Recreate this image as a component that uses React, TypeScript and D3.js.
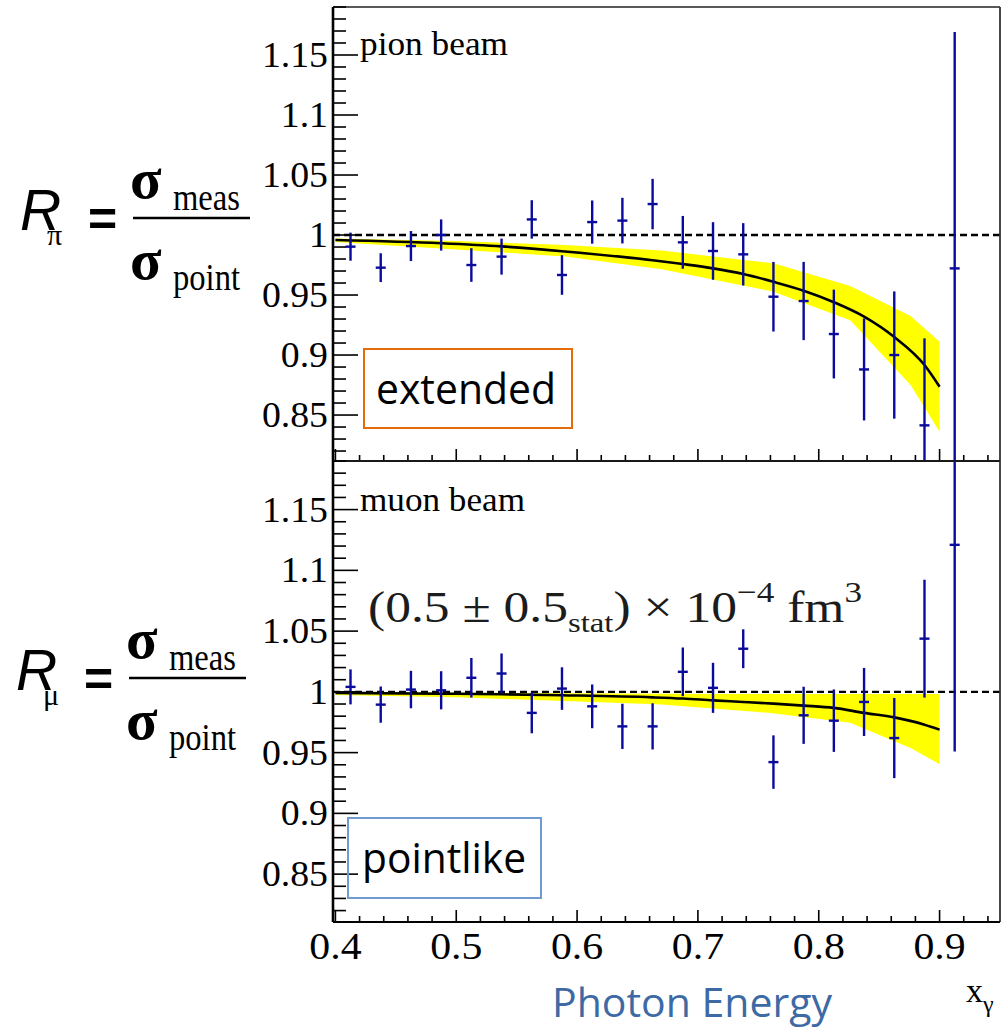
import React from "react";
import * as d3 from "d3";

// ---------- data ----------
const xBins = [0.4125, 0.4375, 0.4625, 0.4875, 0.5125, 0.5375, 0.5625, 0.5875, 0.6125, 0.6375, 0.6625,
  0.6875, 0.7125, 0.7375, 0.7625, 0.7875, 0.8125, 0.8375, 0.8625, 0.8875, 0.9125];

const pionValues = [0.9903, 0.9728, 0.9908, 1.0, 0.975, 0.982, 1.013, 0.9667, 1.0108, 1.012, 1.0258,
  0.9939, 0.9867, 0.9839, 0.9486, 0.945, 0.9175, 0.888, 0.9, 0.8414, 0.9722];
const pionErrors = [0.0117, 0.012, 0.0125, 0.013, 0.014, 0.015, 0.016, 0.0165, 0.018, 0.019, 0.021,
  0.022, 0.024, 0.026, 0.029, 0.0326, 0.037, 0.0425, 0.053, 0.0725, 0.197];

const muonValues = [1.0041, 0.9895, 1.0019, 1.0013, 1.0116, 1.0151, 0.9827, 1.0027, 0.9881, 0.9716, 0.9716,
  1.0165, 1.0033, 1.0355, 0.9422, 0.9807, 0.9763, 0.9917, 0.962, 1.0438, 1.121];
const muonErrors = [0.0144, 0.0149, 0.0154, 0.0157, 0.0163, 0.0165, 0.0168, 0.0175, 0.018, 0.0186, 0.019,
  0.02, 0.0206, 0.016, 0.022, 0.0235, 0.0257, 0.028, 0.033, 0.0485, 0.17];

const fitX = [0.4, 0.4875, 0.5375, 0.5875, 0.6625, 0.6875, 0.7125, 0.7375, 0.7625, 0.7875, 0.8125, 0.8375, 0.8625, 0.8875, 0.9];
const pionFit = [0.9958, 0.9931, 0.9905, 0.9865, 0.979, 0.9758, 0.9722, 0.9675, 0.961, 0.9536, 0.944, 0.932, 0.915, 0.8917, 0.8736];
const muonFit = [0.9992, 0.9985, 0.998, 0.9972, 0.9955, 0.9945, 0.993, 0.9917, 0.9903, 0.9887, 0.9868, 0.9827, 0.979, 0.973, 0.9689];

const pionBandX = [0.4, 0.5, 0.59, 0.67, 0.7625, 0.826, 0.876, 0.9];
const pionBandHi = [0.9972, 0.995, 0.9917, 0.987, 0.9764, 0.9575, 0.9325, 0.911];
const pionBandLo = [0.9942, 0.988, 0.982, 0.9715, 0.9528, 0.929, 0.875, 0.836];

const muonBandX = [0.4, 0.5, 0.56, 0.67, 0.76, 0.826, 0.876, 0.9];
const muonBandHi = [1.0, 0.9995, 0.999, 0.9985, 0.9983, 0.9983, 0.9983, 0.9983];
const muonBandLo = [0.9975, 0.9955, 0.9935, 0.9895, 0.9827, 0.9745, 0.9538, 0.9405];

const xTickLabels = ["0.4", "0.5", "0.6", "0.7", "0.8", "0.9"];
const yTickLabels = ["0.85", "0.9", "0.95", "1", "1.05", "1.1", "1.15"];

// ---------- layout ----------
const X0 = 333, X1 = 1000;
const xScale = d3.scaleLinear().domain([0.398, 0.95]).range([X0, X1]);
const panels = [
  { key: "pion", top: 7, bottom: 461, domain: [0.8117, 1.19], values: pionValues, errors: pionErrors, fit: pionFit,
    bandX: pionBandX, hi: pionBandHi, lo: pionBandLo, label: "pion beam", labelLen: 148, labelY: 55 },
  { key: "muon", top: 461, bottom: 922, domain: [0.8106, 1.19], values: muonValues, errors: muonErrors, fit: muonFit,
    bandX: muonBandX, hi: muonBandHi, lo: muonBandLo, label: "muon beam", labelLen: 165, labelY: 511 },
];

const SERIF = "'Liberation Serif', 'Times New Roman', serif";
const SANS = "'Open Sans', 'Liberation Sans', sans-serif";
const BLUE = "#0a0a9c";

function Panel({ p }: { p: any }) {
  const y = d3.scaleLinear().domain(p.domain).range([p.bottom, p.top]);
  const clipId = "clip-" + p.key;
  const area = d3.area<number>()
    .x((_, i) => xScale(p.bandX[i]))
    .y0((_, i) => y(p.lo[i]))
    .y1((_, i) => y(p.hi[i]));
  const line = d3.line<number>()
    .x((_, i) => xScale(fitX[i]))
    .y((d) => y(d))
    .curve(d3.curveMonotoneX);
  const yMinor = d3.range(Math.ceil(p.domain[0] * 100), Math.floor(p.domain[1] * 100) + 1).map((v) => v / 100);
  const xMinor = d3.range(20, 48).map((v) => v / 50);
  return (
    <g>
      <defs>
        <clipPath id={clipId}>
          <rect x={X0} y={p.top} width={X1 - X0} height={p.bottom - p.top} />
        </clipPath>
      </defs>
      <g clipPath={`url(#${clipId})`}>
        <path d={area(p.bandX) || ""} fill="#ffff00" />
        <line x1={X0} x2={X1} y1={y(1)} y2={y(1)} stroke="#000" strokeWidth={2.4} strokeDasharray="7,4" />
        <path d={line(p.fit) || ""} fill="none" stroke="#000" strokeWidth={2.6} />
        {xBins.map((xv, i) => {
          const cx = xScale(xv);
          return (
            <g key={i} stroke={BLUE} strokeWidth={2.4}>
              <line x1={cx} x2={cx} y1={y(p.values[i] + p.errors[i])} y2={y(p.values[i] - p.errors[i])} />
              <line x1={cx - 5} x2={cx + 5} y1={y(p.values[i])} y2={y(p.values[i])} />
            </g>
          );
        })}
      </g>
      {/* frame */}
      <line x1={X0} x2={X1} y1={p.top} y2={p.top} stroke="#222" strokeWidth={1.6} />
      <line x1={X1} x2={X1} y1={p.top} y2={p.bottom} stroke="#333" strokeWidth={1.8} />
      <line x1={X0} x2={X1} y1={p.bottom} y2={p.bottom} stroke="#000" strokeWidth={2} />
      <line x1={X0} x2={X0} y1={p.top} y2={p.bottom} stroke="#000" strokeWidth={2.6} />
      {/* y ticks */}
      {yMinor.map((v) => {
        const major = Math.round(v * 100) % 5 === 0;
        return <line key={v} x1={X0} x2={X0 + (major ? 25 : 13)} y1={y(v)} y2={y(v)} stroke="#000" strokeWidth={1.6} />;
      })}
      {yTickLabels.map((t) => (
        <text key={t} transform={`translate(328,${y(+t) + 12}) scale(1.08,1)`} textAnchor="end"
          fontFamily={SERIF} fontSize={35} fill="#000">{t}</text>
      ))}
      {/* x ticks */}
      {xMinor.map((v) => {
        const major = Math.round(v * 50) % 5 === 0;
        return <line key={v} x1={xScale(v)} x2={xScale(v)} y1={p.bottom} y2={p.bottom - (major ? 12 : 6)} stroke="#000" strokeWidth={1.6} />;
      })}
      <text x={360} y={p.labelY} fontFamily={SERIF} fontSize={34} textLength={p.labelLen} lengthAdjust="spacingAndGlyphs">{p.label}</text>
    </g>
  );
}

function RatioLabel({ dx, dy, sub }: { dx: number; dy: number; sub: string }) {
  return (
    <g transform={`translate(${dx},${dy})`}>
      <text x={20} y={230} fontFamily="'Liberation Sans', Arial, sans-serif" fontStyle="italic" fontSize={57}>R</text>
      <text x={47} y={245} fontFamily={SERIF} fontSize={30}>{sub}</text>
      <text x={88} y={236} fontFamily="'Liberation Sans', Arial, sans-serif" fontWeight="bold" fontSize={50}>=</text>
      <text x={130} y={198} fontFamily={SERIF} fontWeight="bold" fontSize={58}>σ</text>
      <text x={173} y={210} fontFamily={SERIF} fontSize={38} textLength={67} lengthAdjust="spacingAndGlyphs">meas</text>
      <line x1={133} x2={250} y1={218} y2={218} stroke="#000" strokeWidth={2.5} />
      <text x={130} y={279} fontFamily={SERIF} fontWeight="bold" fontSize={58}>σ</text>
      <text x={173} y={290} fontFamily={SERIF} fontSize={38} textLength={67} lengthAdjust="spacingAndGlyphs">point</text>
    </g>
  );
}

export default function App() {
  return (
    <svg width={1008} height={1029} style={{ position: "absolute", left: 0, top: 0, background: "#fff" }}>
      <rect width={1008} height={1029} fill="#fff" />
      {panels.map((p) => <Panel key={p.key} p={p} />)}
      {xTickLabels.map((t) => (
        <text key={t} transform={`translate(${xScale(+t)},959) scale(1.1,1)`} textAnchor="middle"
          fontFamily={SERIF} fontSize={38}>{t}</text>
      ))}
      <text x={966} y={1002} fontFamily={SERIF} fontSize={34}>x</text>
      <text x={983} y={1012} fontFamily={SERIF} fontSize={24}>γ</text>
      <text x={552} y={1017} fontFamily={SANS} fontSize={40} fill="#3d6aa5" textLength={280} lengthAdjust="spacingAndGlyphs">Photon Energy</text>
      <RatioLabel dx={0} dy={0} sub="π" />
      <RatioLabel dx={-4} dy={460} sub="μ" />
      {/* boxes */}
      <rect x={364} y={349} width={208} height={79} fill="none" stroke="#e46c0a" strokeWidth={2} />
      <text x={376} y={404} fontFamily={SANS} fontSize={42} textLength={180} lengthAdjust="spacingAndGlyphs">extended</text>
      <rect x={348} y={818} width={193} height={80} fill="none" stroke="#6f9bd1" strokeWidth={2} />
      <text x={362} y={873} fontFamily={SANS} fontSize={42} textLength={164} lengthAdjust="spacingAndGlyphs">pointlike</text>
      {/* formula */}
      <text x={368} y={622} fontFamily={SERIF} fontSize={44} fill="#1c1c1c" textLength={494} lengthAdjust="spacingAndGlyphs">
        (0.5 ± 0.5<tspan fontSize={28} dy={10}>stat</tspan><tspan dy={-10}>) × 10</tspan><tspan fontSize={30} dy={-20}>−4</tspan><tspan dy={20}> fm</tspan><tspan fontSize={30} dy={-20}>3</tspan>
      </text>
    </svg>
  );
}
